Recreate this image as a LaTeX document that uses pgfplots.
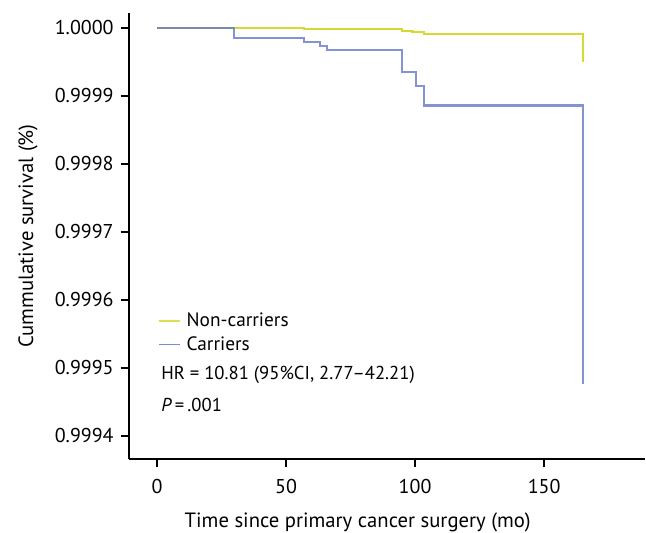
\documentclass[border=0pt]{standalone}
\usepackage{pgfplots}
\pgfplotsset{compat=1.18}
\usepackage{fontspec}
\setmainfont{PT Sans}
\definecolor{ncyel}{RGB}{214,217,50}
\definecolor{cblue}{RGB}{100,120,200}
\begin{document}
\begin{tikzpicture}
\useasboundingbox (-96.75pt,-54.75pt) rectangle (387.75pt,344.25pt);
\begin{axis}[
  at={(0,0)}, anchor=south west,
  scale only axis, width=387pt, height=334.5pt,
  xmin=-10.85, xmax=189.1,
  ymin=-6.34, ymax=0.22,
  axis x line*=bottom, axis y line*=left,
  axis line style={line width=1.5pt, black, -},
  tick align=outside, tick style={line width=1.5pt, black},
  major tick length=6pt,
  xtick={0,50,100,150},
  ytick={-6,-5,-4,-3,-2,-1,0},
  yticklabels={0.9994,0.9995,0.9996,0.9997,0.9998,0.9999,1.0000},
  /pgf/number format/assume math mode=true,
  ticklabel style={font=\fontsize{15}{18}\selectfont},
  xticklabel style={yshift=-6pt},
  yticklabel style={xshift=-2pt},
  xlabel={Time since primary cancer surgery (mo)},
  ylabel={Cummulative survival (\%)},
  label style={font=\fontsize{15.5}{18}\selectfont},
  xlabel style={yshift=-7pt, xshift=-22pt},
  ylabel style={yshift=6pt},
  legend cell align=left,
  legend image code/.code={\draw[#1,line width=1.1pt,opacity=0.85] (0pt,0pt) -- (15.75pt,0pt);},
  legend style={at={(rel axis cs:0.056,0.334)}, anchor=north west, draw=none, fill=none,
    font=\fontsize{14.5}{17}\selectfont, row sep=2pt, inner sep=0pt,
    /tikz/every odd column/.style={column sep=2.5pt}},
]
\addplot[const plot, color=ncyel, line width=1.6pt] coordinates {
  (0,0) (57,-0.01) (63,-0.02) (95,-0.04) (99,-0.065) (103.5,-0.09) (165,-0.50)
};
\addlegendentry{Non-carriers}
\addplot[const plot, color=cblue, line width=1.6pt, opacity=0.8] coordinates {
  (0,0) (30,-0.15) (57,-0.21) (63,-0.26) (66,-0.33) (95,-0.65) (100.5,-0.86) (103.5,-1.14) (165,-5.24)
};
\addlegendentry{Carriers}
\node[anchor=west, font=\fontsize{14}{17}\selectfont, inner sep=0pt] at (rel axis cs:0.062,0.188) {HR = 10.81 (95\%CI, 2.77--42.21)};
\node[anchor=west, font=\fontsize{14}{17}\selectfont, inner sep=0pt] at (rel axis cs:0.062,0.121) {\textit{P}\,=\,.001};
\end{axis}
\end{tikzpicture}
\end{document}
